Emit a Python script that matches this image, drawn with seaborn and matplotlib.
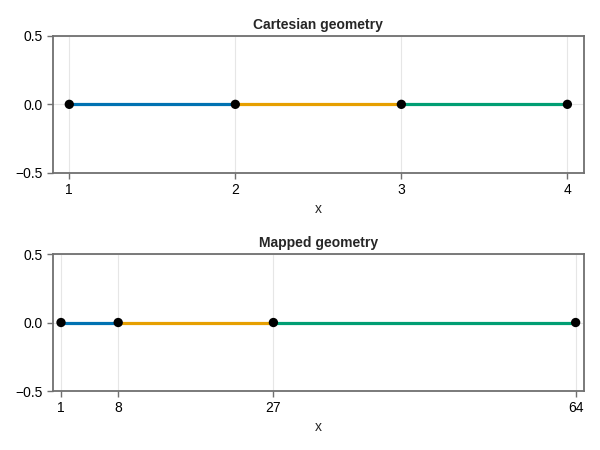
import pandas as pd
import matplotlib
matplotlib.use("Agg")
import matplotlib.pyplot as plt
import seaborn as sns

# Дані
x_cart = [1, 2, 3, 4]
x_mapped = [1, 8, 27, 64]
y_vals = [0.0, 0.0, 0.0, 0.0]
segment_names = ["s1", "s2", "s3"]
segment_colors = ["#0072B2", "#E69F00", "#009E73"]
titles = ["Cartesian geometry", "Mapped geometry"]


def segments_frame(xs):
    rows = []
    for i, name in enumerate(segment_names):
        rows.append({"segment": name, "x": xs[i], "y": y_vals[i]})
        rows.append({"segment": name, "x": xs[i + 1], "y": y_vals[i + 1]})
    return pd.DataFrame(rows)


sns.set_theme(style="white")
plt.rcParams["font.family"] = ["Liberation Sans", "DejaVu Sans"]

fig = plt.figure(figsize=(6, 4.5), dpi=100)
ax_top = fig.add_axes([0.0878, 0.6156, 0.8855, 0.3051])
ax_bot = fig.add_axes([0.0878, 0.1311, 0.8855, 0.3044])

spine_col = "#707070"
for ax, xs, title, xlim in [
    (ax_top, x_cart, titles[0], (0.9, 4.1)),
    (ax_bot, x_mapped, titles[1], (-0.02, 65.02)),
]:
    ax.grid(True, axis="both", color="#e6e6e6", lw=0.8)
    ax.set_axisbelow(True)
    sns.lineplot(
        data=segments_frame(xs), x="x", y="y", hue="segment",
        palette=segment_colors, legend=False, lw=2.3, ax=ax, estimator=None,
        sort=False,
    )
    pts = pd.DataFrame({"x": xs, "y": y_vals})
    sns.scatterplot(data=pts, x="x", y="y", color="black", s=45,
                    edgecolor="none", ax=ax, zorder=5)
    ax.set_xlim(*xlim)
    ax.set_ylim(-0.5, 0.5)
    ax.set_xticks(xs)
    ax.set_xticklabels([str(v) for v in xs])
    ax.set_yticks([-0.5, 0.0, 0.5])
    ax.set_yticklabels(["\u22120.5", "0.0", "0.5"])
    ax.set_title(title, fontsize=10, fontweight="bold", pad=5)
    ax.set_xlabel("x", fontsize=10, labelpad=3)
    ax.set_ylabel("")
    ax.tick_params(axis="both", which="both", direction="out", length=4,
                   width=1, color=spine_col, labelsize=10, pad=3,
                   bottom=True, left=True, labelcolor="black")
    ax.tick_params(axis="x", pad=3.5)
    for sp in ax.spines.values():
        sp.set_color(spine_col)
        sp.set_linewidth(1.3)
        sp.set_visible(True)

fig.savefig("out.png", dpi=100)
